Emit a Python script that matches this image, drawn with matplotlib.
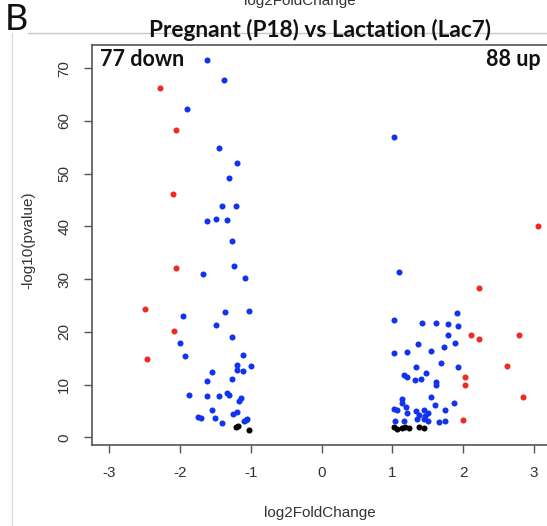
import matplotlib
matplotlib.use("Agg")
import matplotlib.pyplot as plt
from matplotlib.lines import Line2D

# ---- data ----
blue_x = [-1.61, -1.38, -1.90, -1.45, -1.19, -1.30, -1.41, -1.21, -1.61, -1.49, -1.33, -1.26,
          -1.24, -1.68, -1.08, -1.95, -1.36, -1.02, -1.49, -1.27, -2.00, -1.93, -1.11, -1.19,
          -1.20, -1.11, -1.00, -1.55, -1.61, -1.27, -1.87, -1.62, -1.45, -1.34, -1.31, -1.16,
          -1.13, -1.54, -1.25, -1.20, -1.75, -1.70, -1.51, -1.40, -1.09, -1.05, -1.07,
          1.02, 1.09, 1.91, 1.61, 1.79, 1.93, 1.79, 1.73, 1.89, 1.54, 1.69, 1.92, 1.62, 1.62,
          1.55, 1.87, 1.60, 1.75, 1.03, 1.42, 1.03, 1.21, 1.36, 1.33, 1.16, 1.20, 1.32, 1.41,
          1.48, 1.13, 1.13, 1.02, 1.07, 1.19, 1.20, 1.33, 1.44, 1.38, 1.46, 1.50, 1.04, 1.16,
          1.35, 1.44, 1.50, 1.66, 1.75]
blue_y = [71.6, 67.8, 62.2, 54.8, 52.0, 49.1, 43.9, 43.8, 41.1, 41.4, 41.3, 37.3,
          32.4, 30.9, 30.2, 23.0, 23.7, 24.0, 21.3, 19.1, 17.8, 15.5, 15.7, 13.7,
          12.7, 12.6, 13.6, 12.4, 10.6, 11.1, 8.0, 7.8, 7.8, 8.4, 8.0, 6.9,
          7.5, 5.2, 4.4, 4.8, 3.9, 3.6, 3.7, 2.7, 3.1, 3.5, 3.3,
          56.9, 31.4, 23.5, 21.6, 21.4, 21.1, 19.4, 17.2, 17.8, 16.4, 14.0, 13.3, 10.4, 9.9,
          7.7, 6.6, 6.1, 5.1, 22.2, 21.6, 16.0, 16.2, 17.6, 13.3, 11.9, 11.5, 10.9, 11.0,
          12.1, 7.2, 6.6, 5.3, 5.2, 5.7, 4.6, 5.0, 5.1, 4.2, 4.0, 4.7, 3.1, 3.1,
          3.5, 3.5, 3.0, 2.9, 3.1]
red_x = [-2.28, -2.06, -2.09, -2.06, -2.49, -2.08, -2.46,
         3.06, 2.23, 2.11, 2.23, 2.79, 2.62, 2.02, 2.02, 2.84, 2.00]
red_y = [66.2, 58.3, 46.2, 32.1, 24.3, 20.1, 14.9,
         40.0, 28.4, 19.4, 18.6, 19.4, 13.5, 11.4, 9.9, 7.6, 3.3]
black_x = [-1.21, -1.18, -1.02, 1.03, 1.06, 1.14, 1.18, 1.23, 1.37, 1.44]
black_y = [1.9, 2.1, 1.4, 2.0, 1.5, 1.8, 2.0, 1.8, 2.0, 1.8]

x_ticks = [-3, -2, -1, 0, 1, 2, 3]
y_ticks = [0, 10, 20, 30, 40, 50, 60, 70]
title = "Pregnant (P18) vs Lactation (Lac7)"
down_label = "77 down"
up_label = "88 up"
panel_label = "B"

W, H = 547, 526
fig = plt.figure(figsize=(W / 100, H / 100), dpi=100)

# axes box in pixels: left 92, right 551, top 45, bottom 445
L, R, T, B = 92, 551, 45, 445
ax = fig.add_axes([L / W, (H - B) / H, (R - L) / W, (B - T) / H])
ax.set_xlim(-3.24, 3.24)
ax.set_ylim(-1.46, 74.4)

ms = 19
ax.scatter(black_x, black_y, s=ms, c="#000000", linewidths=0, zorder=3)
ax.scatter(blue_x, blue_y, s=ms, c="#1133EE", linewidths=0, zorder=3)
ax.scatter(red_x, red_y, s=ms, c="#EE2A22", linewidths=0, zorder=3)

axis_col = "#555555"
txt_col = "#333333"
for sp in ax.spines.values():
    sp.set_color(axis_col)
    sp.set_linewidth(1.2)

ax.set_xticks(x_ticks)
ax.set_yticks(y_ticks)
ax.set_xticklabels([str(v) for v in x_ticks])
ax.set_yticklabels([str(v) for v in y_ticks], rotation=90, va="center")
ax.tick_params(axis="both", direction="out", length=6, width=1.0, color=axis_col,
               labelsize=11, labelcolor=txt_col)
ax.tick_params(axis="x", pad=9)
ax.tick_params(axis="y", pad=9)
for lab in ax.get_xticklabels() + ax.get_yticklabels():
    lab.set_family("Liberation Sans")

fig.text(320 / W, 1 - 513 / H, "log2FoldChange", ha="center", va="center",
         fontsize=11, color=txt_col, family="Liberation Sans")
fig.text(28 / W, 1 - 240 / H, "-log10(pvalue)", ha="center", va="center",
         rotation=90, fontsize=11, color=txt_col, family="Liberation Sans")

# partial label from the panel above (cut at top, as in the reference)
fig.text(300 / W, 1 - 1 / H, "log2FoldChange", ha="center", va="center",
         fontsize=11, color=txt_col, family="Liberation Sans")

# panel frame lines
fig.add_artist(Line2D([28 / W, 1.0], [1 - 33 / H, 1 - 33 / H], transform=fig.transFigure,
                      color="#c8c8c8", lw=1.0))
fig.add_artist(Line2D([12 / W, 12 / W], [0, 1 - 33 / H], transform=fig.transFigure,
                      color="#dcdcdc", lw=1.0))

fig.text(5 / W, 1 - 19 / H, panel_label, ha="left", va="center", fontsize=26,
         family="Lato", color="#111111")
fig.text(320 / W, 1 - 30 / H, title, ha="center", va="center", fontsize=16.3,
         fontweight="bold", family="Lato", color="#111111")
fig.text(100 / W, 1 - 59 / H, down_label, ha="left", va="center", fontsize=15.5,
         fontweight="bold", family="Lato", color="#111111")
fig.text(541 / W, 1 - 59 / H, up_label, ha="right", va="center", fontsize=15.5,
         fontweight="bold", family="Lato", color="#111111")

fig.savefig("out.png", dpi=100)
